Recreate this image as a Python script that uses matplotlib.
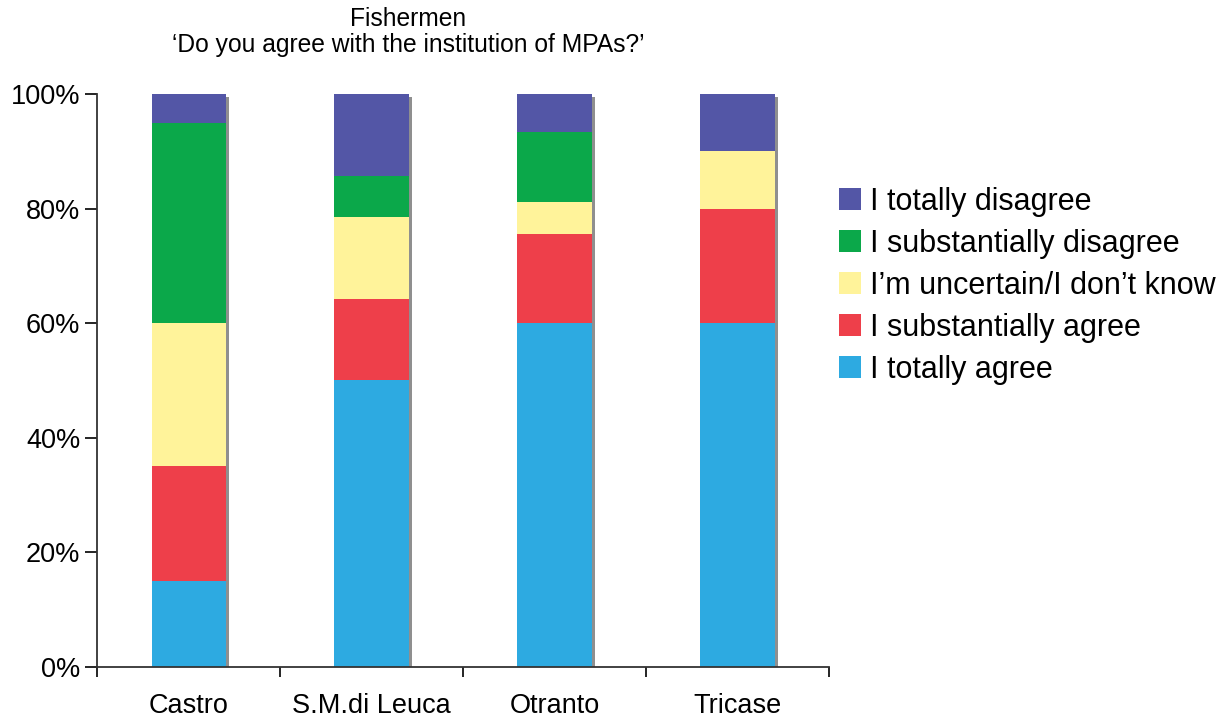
import numpy as np
import matplotlib.pyplot as plt

plt.rcParams['font.family'] = ['Liberation Sans', 'DejaVu Sans']

sites = ["Castro", "S.M.di Leuca", "Otranto", "Tricase"]
labels = ["I totally agree", "I substantially agree",
          "I\u2019m uncertain/I don\u2019t know",
          "I substantially disagree", "I totally disagree"]
colors = ["#2DAAE1", "#EE3F4A", "#FFF39A", "#0BA84A", "#5356A6"]

totally_agree = [15, 50, 60, 60]
subst_agree = [20, 14.3, 15.5, 20]
uncertain = [25, 14.3, 5.7, 10]
subst_disagree = [35, 7.1, 12.1, 0]
totally_disagree = [5, 14.3, 6.7, 10]
series = [totally_agree, subst_agree, uncertain, subst_disagree, totally_disagree]

fig = plt.figure(figsize=(12.29, 7.21), dpi=100)
ax = fig.add_axes([0.079, 0.075, 0.5955, 0.7946])

x = np.arange(len(sites))
width = 0.405

# thin grey shadow on the right of each column
ax.bar(x + 0.018, 99.4, width=width, color="#8f8f8f", zorder=1)

bottom = np.zeros(len(sites))
handles = []
for vals, lab, col in zip(series, labels, colors):
    h = ax.bar(x, vals, width=width, bottom=bottom, color=col, label=lab, zorder=2)
    handles.append(h)
    bottom += np.array(vals)

ax.set_xlim(-0.5, len(sites) - 0.5)
ax.set_ylim(0, 100)
ax.set_yticks(np.arange(0, 101, 20))
ax.set_yticklabels([f"{v}%" for v in range(0, 101, 20)])
ax.set_xticks(x)
ax.set_xticklabels(sites)
ax.set_xticks(np.arange(-0.5, len(sites)), minor=True)
ax.tick_params(axis="x", which="major", length=0, pad=19, labelsize=19.5)
ax.tick_params(axis="x", which="minor", length=7, width=1.2, direction="out")
ax.tick_params(axis="y", length=9, width=1.2, labelsize=19.5, pad=3)
for s in ["top", "right"]:
    ax.spines[s].set_visible(False)
for s in ["left", "bottom"]:
    ax.spines[s].set_linewidth(1.3)
    ax.spines[s].set_color("#333333")

fig.text(0.332, 0.974, "Fishermen", ha="center", va="center", fontsize=17.7)
fig.text(0.332, 0.938, "\u2018Do you agree with the institution of MPAs?\u2019",
         ha="center", va="center", fontsize=17.7)

fig.legend(handles[::-1], labels[::-1], loc="center left",
           bbox_to_anchor=(0.66, 0.6035), frameon=False, fontsize=22,
           handlelength=0.72, handleheight=0.72, handletextpad=0.3,
           labelspacing=0.39)

fig.savefig("out.png", dpi=100)
